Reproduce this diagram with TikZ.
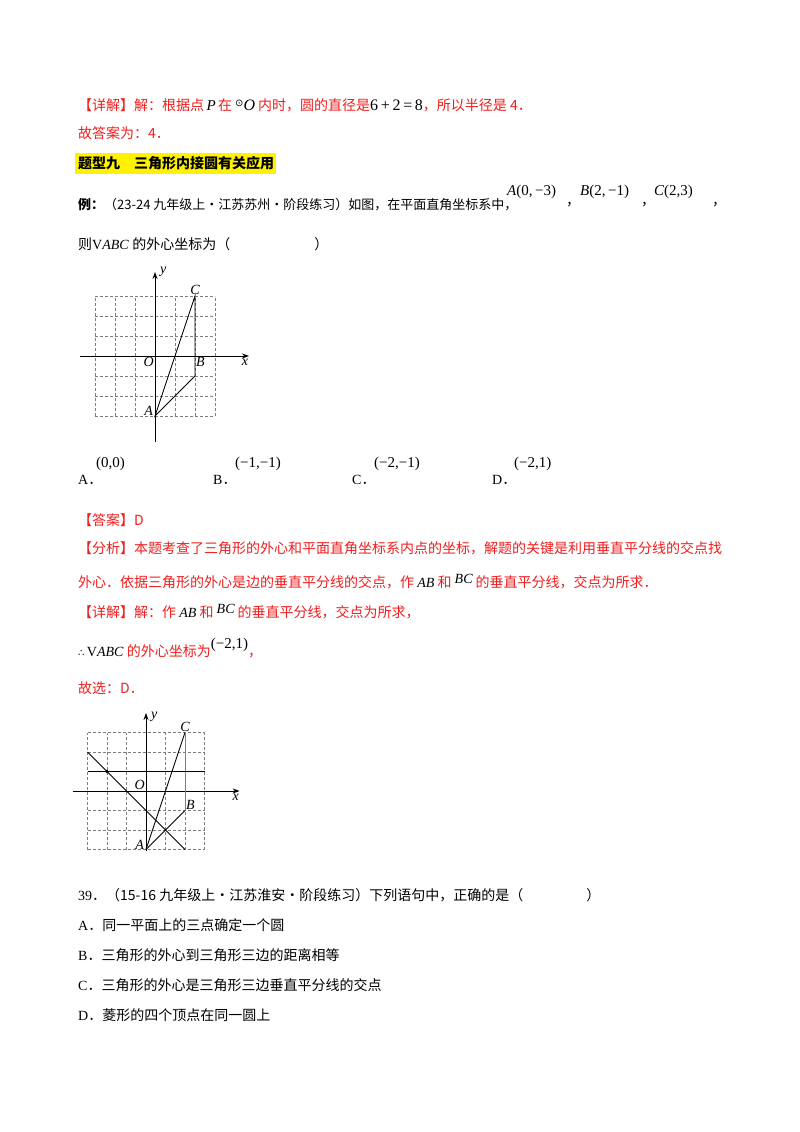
\documentclass[tikz,border=0pt]{standalone}
\usepackage{fontspec}
\setmainfont{Liberation Serif}
\newfontfamily\cjk{Noto Sans CJK SC}
\newfontfamily\dv{DejaVu Sans}
\newfontfamily\lib{Liberation Serif}
\usetikzlibrary{arrows.meta}
\definecolor{rd}{RGB}{240,30,30}
\newcommand{\mi}[1]{{\color{black}\lib\itshape #1}}
\newcommand{\mr}[1]{{\color{black}\lib #1}}
\tikzset{
  txt/.style={anchor=west,inner sep=0pt,font=\fontsize{14}{16}\selectfont},
  red/.style={txt,text=rd},
  grid/.style={gray,densely dashed,line width=0.5pt},
  ax/.style={line width=0.9pt,-{Stealth[length=7pt,width=5pt]}},
  seg/.style={line width=0.9pt},
  lab/.style={inner sep=1pt,font=\fontsize{14}{14}\selectfont\itshape}
}
\begin{document}
\begin{tikzpicture}[x=1pt,y=-1pt]
\useasboundingbox[fill=white] (0,0) rectangle (800,1132);
\node[red] (l1) at (78,105) {\cjk 【详解】解：根据点\,{\fontsize{15}{15}\selectfont\mi{P}}\,在 {\color{black}\raisebox{4pt}{\fontsize{10}{10}\dv ⊙}{\fontsize{16}{16}\selectfont\mi{O}}} 内时，圆的直径是{\fontsize{16}{16}\selectfont\mr{6\,+\,2\,=\,8}}，所以半径是 4．};
\node[red] (l2) at (78,133) {\cjk 故答案为：4．};
\fill[yellow] (75,153) rectangle (276,174);
\node[txt] (l3) at (78,163) {\cjk\bfseries 题型九\quad 三角形内接圆有关应用};
\node[txt,font=\fontsize{13}{16}\selectfont] (l4) at (78,205) {{\cjk\bfseries 例：}{\cjk （23-24 九年级上·江苏苏州·阶段练习）如图，在平面直角坐标系中，}};
\node[txt] (l4b) at (507,192) {\fontsize{15}{15}\selectfont\mi{A}\mr{(0,\,−3)}};
\node[txt] (l4c) at (566,205) {\cjk ，};
\node[txt] (l4d) at (580,192) {\fontsize{15}{15}\selectfont\mi{B}\mr{(2,\,−1)}};
\node[txt] (l4e) at (641,205) {\cjk ，};
\node[txt] (l4f) at (654,192) {\fontsize{15}{15}\selectfont\mi{C}\mr{(2,3)}};
\node[txt] (l4g) at (712,205) {\cjk ，};
\node[txt] (l5) at (78,244) {{\cjk 则}V\mi{ABC} {\cjk 的外心坐标为（\hspace{6em}）}};
% figure 1
\begin{scope}[shift={(155,356)},x=20pt,y=20pt]
\foreach \i in {-3,...,3} {\draw[grid] (\i,-3) -- (\i,3); \draw[grid] (-3,\i) -- (3,\i);}
\coordinate (xs) at (-3.75,0); \coordinate (xe) at (4.7,0);
\coordinate (ys) at (0,-4.3); \coordinate (ye) at (0,4.2);
\draw[ax] (xs) -- (xe); \draw[ax] (ys) -- (ye);
\coordinate (A) at (0,-3); \coordinate (B) at (2,-1); \coordinate (C) at (2,3);
\draw[seg] (A) -- (B) -- (C) -- cycle;
\node[lab,anchor=north east] (O) at (0,0) {O};
\node[lab,anchor=east] (lA) at (-0.05,-2.75) {A};
\node[lab,anchor=north west] (lB) at (2,0) {B};
\node[lab,anchor=south] (lC) at (C) {C};
\node[lab,anchor=north] (lx) at (4.5,-0.1) {x};
\node[lab,anchor=west] (ly) at (0.2,4.2) {y};
\end{scope}
% options
\node[txt] (oA) at (78,480) {A\cjk ．};
\node[txt] (oA2) at (96,464) {\fontsize{15}{15}\selectfont\mr{(0,0)}};
\node[txt] (oB) at (213,480) {B\cjk ．};
\node[txt] (oB2) at (235,464) {\fontsize{15}{15}\selectfont\mr{(−1,−1)}};
\node[txt] (oC) at (352,480) {C\cjk ．};
\node[txt] (oC2) at (374,464) {\fontsize{15}{15}\selectfont\mr{(−2,−1)}};
\node[txt] (oD) at (492,480) {D\cjk ．};
\node[txt] (oD2) at (514,464) {\fontsize{15}{15}\selectfont\mr{(−2,1)}};
\node[red] (a1) at (78,520) {\cjk 【答案】D};
\node[red] (a2) at (78,548) {\cjk 【分析】本题考查了三角形的外心和平面直角坐标系内点的坐标，解题的关键是利用垂直平分线的交点找};
\node[red] (a3) at (78,582) {\cjk 外心．依据三角形的外心是边的垂直平分线的交点，作 \mi{AB} 和 \raisebox{4pt}{\mi{BC}} 的垂直平分线，交点为所求．};
\node[red] (a4) at (78,612) {\cjk 【详解】解：作 \mi{AB} 和 \raisebox{4pt}{\mi{BC}} 的垂直平分线，交点为所求，};
\node[red] (a5) at (78,648) {{\color{black}{\dv\fontsize{10}{10}\selectfont ∴}\,V\mi{ABC}} {\cjk 的外心坐标为}\raisebox{8pt}{\fontsize{15}{15}\selectfont\mr{(−2,1)}}{\cjk ，}};
\node[red] (a6) at (78,688) {\cjk 故选：D．};
% figure 2
\begin{scope}[shift={(146,791)},x=19.5pt,y=19.5pt]
\foreach \i in {-3,...,3} {\draw[grid] (\i,-3) -- (\i,3); \draw[grid] (-3,\i) -- (3,\i);}
\coordinate (xs2) at (-3.75,0); \coordinate (xe2) at (4.8,0);
\coordinate (ys2) at (0,-3.1); \coordinate (ye2) at (0,4.0);
\draw[ax] (xs2) -- (xe2); \draw[ax] (ys2) -- (ye2);
\coordinate (A2) at (0,-3); \coordinate (B2) at (2,-1); \coordinate (C2) at (2,3);
\draw[seg] (A2) -- (B2); \draw[seg] (A2) -- (C2); \draw[gray,line width=0.9pt] (B2) -- (C2);
\coordinate (h1) at (-3,1); \coordinate (h2) at (3,1);
\draw[seg] (h1) -- (h2);
\coordinate (p1) at (-3,2); \coordinate (p2) at (2,-3);
\draw[seg] (p1) -- (p2);
\fill (-2,1) circle (1.8pt);
\node[lab,anchor=south east] (O2) at (0,0) {O};
\node[lab,anchor=east] (lA2) at (-0.05,-2.75) {A};
\node[lab,anchor=north west] (lB2) at (2,-0.4) {B};
\node[lab,anchor=south] (lC2) at (C2) {C};
\node[lab,anchor=north] (lx2) at (4.6,-0.1) {x};
\node[lab,anchor=west] (ly2) at (0.2,3.8) {y};
\end{scope}
\node[txt] (q1) at (78,895) {39{\cjk ．（15-16 九年级上·江苏淮安·阶段练习）下列语句中，正确的是（\hspace{4.5em}）}};
\node[txt] (q2) at (78,925) {A{\cjk ．同一平面上的三点确定一个圆}};
\node[txt] (q3) at (78,955) {B{\cjk ．三角形的外心到三角形三边的距离相等}};
\node[txt] (q4) at (78,985) {C{\cjk ．三角形的外心是三角形三边垂直平分线的交点}};
\node[txt] (q5) at (78,1015) {D{\cjk ．菱形的四个顶点在同一圆上}};
\end{tikzpicture}
\end{document}
